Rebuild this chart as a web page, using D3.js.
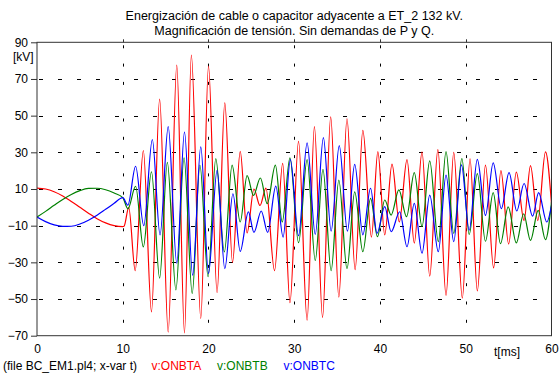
<!DOCTYPE html>
<html>
<head>
<meta charset="utf-8">
<script src="https://cdn.jsdelivr.net/npm/d3@7"></script>
<style>
  body { margin: 0; background: #fff; }
  text { font-family: "Liberation Sans", Arial, sans-serif; font-size: 12px; }
</style>
</head>
<body>
<div id="chart"></div>
<script>
var titleLines = ["Energización de cable o capacitor adyacente a ET_2 132 kV.",
                  "Magnificación de tensión. Sin demandas de P y Q."];
var xTicks = [0, 10, 20, 30, 40, 50, 60];
var yTicks = [90, 70, 50, 30, 10, -10, -30, -50, -70];
var xGrid = [10, 20, 30, 40, 50];
var yGrid = [70, 50, 30, 10, -10, -30, -50];
var seriesNames = ["v:ONBTA", "v:ONBTB", "v:ONBTC"];
var seriesColors = ["#ff0000", "#008000", "#0000ff"];

// ONBTA (red): samples before the switching, then peaks/troughs
var redT = [0, 1, 2, 3, 4, 5, 6, 7, 8, 9, 10, 10.15, 10.7, 11.45, 12.4, 13.35, 14.3, 15.3, 16.3, 17.2,
  18.0, 19.1, 20.0, 21.0, 21.9, 22.8, 23.7, 24.5, 25.3, 26.0, 26.7, 27.7, 28.65, 29.5, 30.5, 31.5,
  32.35, 33.3, 34.25, 35.2, 36.15, 37.1, 38.0, 39.0, 39.75, 40.55, 41.4, 42.25, 43.15, 44.0, 44.9,
  45.8, 46.75, 47.7, 48.6, 49.6, 50.5, 51.35, 52.3, 53.25, 54.1, 55.0, 55.9, 56.8, 57.55, 58.4, 59.3, 60];
var redV = [10.5, 10, 8.5, 6.2, 3.2, 0, -3.2, -6.2, -8.5, -10, -10.5, -10.3, 0, -34.5, 31, -57, 59, -68, 77.5, -68.5,
  83, -60.5, 77, -46.5, 57, -30, 30.5, -14, 10, 1, 10.5, -34.5, 24, -52, 36, -61.5,
  44, -60, 49.3, -49, 48.3, -34, 42, -16.2, 30.4, -15, 23.6, -8, 26, -19.5, 30.3,
  -37.5, 31.5, -48, 30, -49.5, 26.5, -45.6, 23, -33, 20, -20, 19.2, -7.2, 22.8, -7.2, 30.2, 2];

// ONBTB (green)
var greenT = [0, 1, 2, 3, 4, 5, 6, 7, 8, 9, 10, 10.6, 11.5, 12.4, 13.35, 14.3, 15.2, 16.2, 17.15, 18.1,
  19.0, 19.95, 20.85, 21.85, 22.75, 23.7, 24.5, 25.25, 26.05, 26.85, 27.8, 28.6, 29.5, 30.5, 31.5,
  32.45, 33.35, 34.3, 35.2, 36.15, 37.05, 38.0, 38.9, 39.7, 40.55, 41.3, 42.2, 43.1, 44.0, 44.9,
  45.8, 46.8, 47.7, 48.6, 49.55, 50.4, 51.35, 52.3, 53.2, 54.05, 54.95, 55.9, 56.75, 57.55, 58.45, 59.3, 60];
var greenV = [-5.3, -2.2, 1.1, 4.3, 7, 9.1, 10.3, 10.4, 9.6, 7.8, 5.3, -0.8, 11.5, -21.6, 19.4, -38.6, 24.5, -45, 27, -47,
  23, -37.8, 26.6, -24.3, 23, -8, 17.3, 6.5, 16, 2, 23, -8, 27, -19.3, 26,
  -29, 20.7, -34.5, 14.8, -33.5, 8.4, -24.2, 4.9, -16, 4, -4.2, 9.5, -5.1, 18.9, -10.5,
  25.3, -18.7, 30.4, -14.2, 26.6, -14.8, 18.4, -18.5, 8, -19.8, 0.3, -19.4, -3.5, -18, -1.7, -17.6, 3];

// ONBTC (blue)
var blueT = [0, 1, 2, 3, 4, 5, 6, 7, 8, 9, 10, 10.6, 11.5, 12.45, 13.45, 14.35, 15.3, 16.3, 17.2, 18.15,
  19.1, 20.0, 21.0, 21.9, 22.85, 23.7, 24.65, 25.3, 26.15, 26.9, 27.85, 28.7, 29.55, 30.5, 31.5,
  32.45, 33.4, 34.3, 35.25, 36.2, 37.05, 38.0, 38.9, 39.65, 40.55, 41.3, 42.3, 43.15, 44.0, 44.9,
  45.8, 46.8, 47.7, 48.6, 49.5, 50.4, 51.35, 52.3, 53.2, 54.15, 55.05, 55.95, 56.8, 57.8, 58.5, 59.45, 60];
var blueV = [-5.3, -7.8, -9.6, -10.4, -10.3, -9.1, -7, -4.3, -1.1, 2.2, 5.3, 1.2, 22.4, -10, 37, -15, 44, -30.5, 41, -37,
  33, -36, 20.2, -33.5, 7.4, -24, -2.5, -13.7, -2, -13.7, 11.6, -16.2, 26, -15.5, 35.2,
  -14.8, 38, -13, 33.6, -13, 23.4, -15, 10.4, -14.2, 0.4, -13.3, -2.4, -21.5, 2.2, -25,
  6.7, -24.2, 17.6, -18.7, 23.2, -12.5, 26.2, -4.4, 24.3, -0.7, 18.9, -2, 13, -4.8, 8, -8, 1];

var width = 559, height = 375;
var x0 = 37, x1 = 551.5, y0 = 42.3, y1 = 335.7;

var svg = d3.select("#chart").append("svg")
  .attr("width", width)
  .attr("height", height);

var xScale = d3.scaleLinear().domain([0, 60]).range([x0, x1]);
var yScale = d3.scaleLinear().domain([-70, 90]).range([y1, y0]);

// title
svg.selectAll(".title").data(titleLines).enter().append("text")
  .attr("class", "title")
  .attr("x", (x0 + x1) / 2)
  .attr("y", function(d, i) { return 20 + i * 15; })
  .attr("text-anchor", "middle")
  .attr("font-size", "12.5px")
  .style("font-size", "12.5px")
  .attr("fill", "#000")
  .text(function(d) { return d; });

// dotted grid
svg.selectAll(".gx").data(xGrid).enter().append("line")
  .attr("x1", function(d) { return Math.round(xScale(d)) + 0.5; })
  .attr("x2", function(d) { return Math.round(xScale(d)) + 0.5; })
  .attr("y1", y0 + 3).attr("y2", y1)
  .attr("stroke", "#000")
  .attr("stroke-dasharray", "3,15.3");

svg.selectAll(".gy").data(yGrid).enter().append("line")
  .attr("y1", function(d) { return Math.round(yScale(d)) + 0.5; })
  .attr("y2", function(d) { return Math.round(yScale(d)) + 0.5; })
  .attr("x1", x0 + 2).attr("x2", x1)
  .attr("stroke", "#000")
  .attr("stroke-dasharray", "4,15");

// curves
svg.append("clipPath").attr("id", "clip").append("rect")
  .attr("x", x0).attr("y", y0).attr("width", x1 - x0).attr("height", y1 - y0);

var line = d3.line()
  .x(function(d) { return xScale(d[0]); })
  .y(function(d) { return yScale(d[1]); })
  .curve(d3.curveMonotoneX);

var series = [d3.zip(redT, redV), d3.zip(greenT, greenV), d3.zip(blueT, blueV)];

svg.append("g").attr("clip-path", "url(#clip)")
  .selectAll("path").data(series).enter().append("path")
  .attr("d", line)
  .attr("fill", "none")
  .attr("stroke", function(d, i) { return seriesColors[i]; })
  .attr("stroke-width", 1.2);

// frame
svg.append("rect")
  .attr("x", x0).attr("y", y0).attr("width", x1 - x0).attr("height", y1 - y0)
  .attr("fill", "none").attr("stroke", "#333").attr("stroke-width", 1);

// y axis labels and ticks
var yAxis = d3.axisLeft(yScale).tickValues(yTicks).tickSize(6).tickPadding(3);
svg.append("g").attr("transform", "translate(" + x0 + ",0)").call(yAxis)
  .call(function(g) { g.select(".domain").remove(); })
  .call(function(g) {
    g.selectAll("text").attr("font-size", 12).attr("font-family", null).attr("fill", "#000");
    g.selectAll("line").attr("stroke", "#333");
  });

// x axis labels
var xAxis = d3.axisBottom(xScale).tickValues(xTicks).tickSize(0).tickPadding(9);
svg.append("g").attr("transform", "translate(0," + y1 + ")").call(xAxis)
  .call(function(g) { g.select(".domain").remove(); })
  .call(function(g) {
    g.selectAll("text").attr("font-size", 12).attr("font-family", null).attr("fill", "#000");
  });

// small ticks on top edge
svg.selectAll(".tt").data(xGrid).enter().append("line")
  .attr("x1", function(d) { return Math.round(xScale(d)) + 0.5; })
  .attr("x2", function(d) { return Math.round(xScale(d)) + 0.5; })
  .attr("y1", y0 - 3).attr("y2", y0)
  .attr("stroke", "#333");

svg.append("text").attr("x", 13).attr("y", 61).text("[kV]");
svg.append("text").attr("x", 494).attr("y", 356).text("t[ms]");

// legend
var legendX = [151.5, 217, 283.5];
svg.append("text").attr("x", 3).attr("y", 370).text("(file BC_EM1.pl4; x-var t)");
svg.selectAll(".leg").data(seriesNames).enter().append("text")
  .attr("x", function(d, i) { return legendX[i]; })
  .attr("y", 370)
  .attr("fill", function(d, i) { return seriesColors[i]; })
  .text(function(d) { return d; });
</script>
</body>
</html>
